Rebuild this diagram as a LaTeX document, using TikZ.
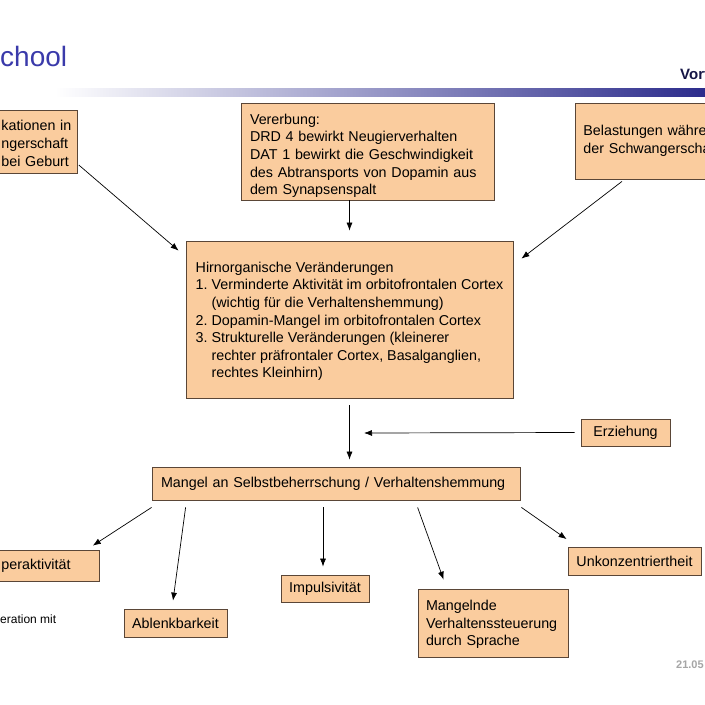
\documentclass[tikz,border=0pt]{standalone}
\usepackage{fontspec}
\setmainfont{Liberation Sans}
\usepackage{xcolor}
\usepackage{tikz}
\usetikzlibrary{shapes, arrows.meta, calc}
\definecolor{pfirsich}{RGB}{250,204,158}
\definecolor{rand}{RGB}{90,70,55}
\definecolor{kopfblau}{RGB}{58,58,170}
\definecolor{balken}{RGB}{44,44,140}
\newcommand{\fs}{\fontsize{14.3}{17.6}\selectfont\frenchspacing}
\newcommand{\einr}{\hphantom{1. }}
\tikzstyle{block} = [draw=rand, fill=pfirsich, rectangle, line width=0.8pt, font=\fs]
\tikzstyle{tblock} = [block, align=left, inner xsep=9pt]
\tikzstyle{pfeil} = [->, line width=0.7pt]

\begin{document}
\begin{tikzpicture}[x=1pt, y=-1pt, >={Latex[length=8pt,width=6pt]}]
    % 画布
    \useasboundingbox (0,0) rectangle (705,705);
    \fill[white] (0,0) rectangle (705,705);

    % 页眉
    \node[anchor=base west, inner sep=0pt, font=\fontsize{28}{30}\selectfont, text=kopfblau] (schule) at (0,66) {chool};
    \node[anchor=base west, inner sep=0pt, font=\fontsize{15}{17}\selectfont\bfseries, text=balken!50!black] (vort) at (680,79) {Vort};
    \shade[left color=white, right color=balken] (55,88) rectangle (705,96);

    % 放置节点
    \node[tblock, anchor=west, inner xsep=2pt, text width=74pt, minimum height=63pt] (kompl) at (-1,141.5) {\rule{0pt}{14pt}kationen in\\ngerschaft\\bei Geburt};
    \node[tblock, inner ysep=0pt, text width=235pt, minimum height=97pt] (vererb) at (367.5,151.5) {\rule{0pt}{19pt}Vererbung:\\DRD 4 bewirkt Neugierverhalten\\DAT 1 bewirkt die Geschwindigkeit\\des Abtransports von Dopamin aus\\dem Synapsenspalt};
    \node[tblock, anchor=west, inner xsep=8pt, text width=140pt, minimum height=76pt] (belast) at (575,141) {Belastungen währe\\der Schwangerscha};
    \node[block, align=left, minimum width=327pt, minimum height=157pt] (hirn) at (349.5,319.5) {\rule{0pt}{14pt}Hirnorganische Veränderungen\\1. Verminderte Aktivität im orbitofrontalen Cortex\\\einr(wichtig für die Verhaltenshemmung)\\2. Dopamin-Mangel im orbitofrontalen Cortex\\3. Strukturelle Veränderungen (kleinerer\\\einr rechter präfrontaler Cortex, Basalganglien,\\\einr rechtes Kleinhirn)};
    \node[block, minimum width=89pt, minimum height=27pt] (erz) at (625.5,432.5) {Erziehung};
    \node[tblock, text width=350pt, minimum height=33pt] (mangel) at (336,483.5) {Mangel an Selbstbeherrschung / Verhaltenshemmung};
    \node[tblock, anchor=west, inner xsep=2pt, text width=96pt, minimum height=31pt] (hyper) at (-1,565.5) {peraktivität};
    \node[block, minimum width=103pt, minimum height=28pt] (ablenk) at (175.5,623) {Ablenkbarkeit};
    \node[block, minimum width=88pt, minimum height=27pt] (impuls) at (325,588.5) {Impulsivität};
    \node[tblock, inner xsep=8pt, text width=134pt, minimum height=68pt] (sprache) at (493,623) {\rule{0pt}{13pt}Mangelnde\\Verhaltenssteuerung\\durch Sprache};
    \node[block, minimum width=133pt, minimum height=28pt] (unkonz) at (634.5,561.5) {Unkonzentriertheit};

    % 其他文字
    \node[anchor=base west, inner sep=0pt, font=\fontsize{12}{14}\selectfont] (rest) at (0,623) {eration mit};
    \node[anchor=base west, inner sep=0pt, font=\fontsize{11}{13}\selectfont\bfseries, text=black!35] (datum) at (676,668) {21.05};

    % 连线
    \draw[pfeil] ($(kompl.east)+(1,23.5)$) -- ($(hirn.north west)+(-7,10)$);
    \draw[pfeil] (hirn.north |- vererb.south) -- ($(hirn.north)+(0,-10)$);
    \draw[pfeil] ($(belast.south west)+(47,2)$) -- ($(hirn.north east)+(8,18)$);
    \draw[pfeil] ($(hirn.south)+(0,7)$) -- ($(hirn.south |- mangel.north)+(0,-7)$);
    \coordinate (erzziel) at (364,433);
    \draw[pfeil] ($(erz.west)+(-6,0)$) -- (erzziel);
    \draw[pfeil] ($(mangel.south west)+(0,7)$) -- ($(hyper.north east)+(-7,-4)$);
    \draw[pfeil] ($(mangel.south west)+(34,7)$) -- ($(ablenk.north)+(-2.5,-8)$);
    \draw[pfeil] ($(impuls.north |- mangel.south)+(-2,7)$) -- ($(impuls.north)+(-2,-8)$);
    \draw[pfeil] ($(sprache.north west |- mangel.south)+(0,7)$) -- ($(sprache.north west)+(26,-9)$);
    \draw[pfeil] ($(mangel.south east)+(1,7)$) -- ($(unkonz.north west)+(-1,-8)$);
\end{tikzpicture}
\end{document}
